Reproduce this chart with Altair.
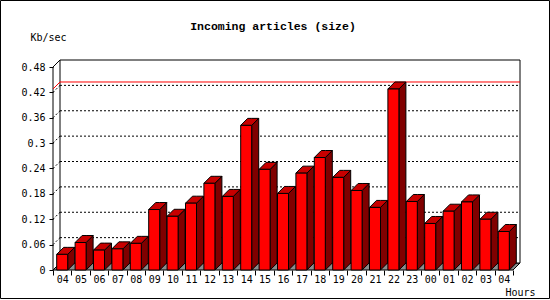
import altair as alt
import pandas as pd

# ---- data ----
hours = ["04", "05", "06", "07", "08", "09", "10", "11", "12", "13", "14", "15",
         "16", "17", "18", "19", "20", "21", "22", "23", "00", "01", "02", "03", "04"]
values = [0.037, 0.065, 0.047, 0.050, 0.063, 0.143, 0.127, 0.158, 0.205, 0.174,
          0.342, 0.238, 0.181, 0.229, 0.266, 0.219, 0.188, 0.148, 0.428, 0.162,
          0.110, 0.139, 0.161, 0.120, 0.091]
y_ticks = [0, 0.06, 0.12, 0.18, 0.24, 0.3, 0.36, 0.42, 0.48]
chart_title = "Incoming articles (size)"
y_title = "Kb/sec"
x_title = "Hours"

# ---- geometry of the pseudo-3D box ----
N = len(values)
W, H = 467, 210
STEP_PX = 18.4
PX_PER_UNIT = 203 / 0.48
DEPTH_PX = 7
Y_MAX = y_ticks[-1]
x_top = W / STEP_PX
y_top = H / PX_PER_UNIT
dxu = DEPTH_PX / STEP_PX
dyu = DEPTH_PX / PX_PER_UNIT
FACE_OFF = 3.7 / STEP_PX
FACE_W = 11 / STEP_PX

xs = alt.Scale(domain=[0, x_top], nice=False, zero=False)
ys = alt.Scale(domain=[0, y_top], nice=False, zero=False)
MONO = "DejaVu Sans Mono"

label_arr = "[" + ",".join("'%s'" % h for h in hours) + "]"
x_axis = alt.Axis(
    values=list(range(N + 1)), labelExpr=label_arr + "[datum.value] || ''",
    labelOffset=STEP_PX / 2, labelFlush=False, labelOverlap=False, labelBound=False,
    tickSize=5, labelPadding=-1, domain=False, grid=False,
    title=x_title, titleX=452, titleY=22, titleAlign="left", titleBaseline="middle",
    titleFont=MONO, titleFontSize=10, titleFontWeight="normal", titleColor="black")
y_axis = alt.Axis(
    values=y_ticks, format="~g", tickSize=4, labelPadding=4, domain=False, grid=False,
    title=y_title, titleAngle=0, titleX=-23, titleY=-23, titleAlign="left",
    titleBaseline="middle", titleFont=MONO, titleFontSize=10,
    titleFontWeight="normal", titleColor="black")

fronts, sides, tops = [], [], []
for i, v in enumerate(values):
    xl = i + FACE_OFF
    xr = xl + FACE_W
    fronts.append(dict(id=i, x=xl, x2=xr, y=0, y2=v))
    sides += [dict(id=i, x=xr, lo=0, hi=v), dict(id=i, x=xr + dxu, lo=dyu, hi=v + dyu)]
    tops += [dict(id=i, x=xl, lo=v, hi=v), dict(id=i, x=xl + dxu, lo=v, hi=v + dyu),
             dict(id=i, x=xr, lo=v, hi=v + dyu), dict(id=i, x=xr + dxu, lo=v + dyu, hi=v + dyu)]

floor = pd.DataFrame([dict(id=0, x=0, lo=0, hi=0), dict(id=0, x=dxu, lo=0, hi=dyu),
                      dict(id=0, x=N, lo=0, hi=dyu), dict(id=0, x=N + dxu, lo=dyu, hi=dyu)])
wall = pd.DataFrame([dict(x=dxu, x2=N + dxu, y=dyu, y2=Y_MAX + dyu)])
grid_h = pd.DataFrame([dict(x=dxu, x2=N + dxu, y=v + dyu, y2=v + dyu) for v in y_ticks[1:-1]])
grid_d = pd.DataFrame([dict(x=0, x2=dxu, y=v, y2=v + dyu) for v in y_ticks[1:-1]])
edge_d = pd.DataFrame([dict(x=0, x2=dxu, y=Y_MAX, y2=Y_MAX + dyu)])
front_axis = pd.DataFrame([dict(x=0, x2=0, y=0, y2=Y_MAX)])
vmax = max(values)
red = pd.DataFrame([dict(x=dxu, x2=N + dxu, y=vmax + dyu, y2=vmax + dyu),
                    dict(x=0, x2=dxu, y=vmax, y2=vmax + dyu)])


def rule_layer(df, color="black", dash=None):
    kw = dict(color=color, strokeWidth=1)
    if dash:
        kw["strokeDash"] = dash
    return alt.Chart(df).mark_rule(**kw).encode(
        x=alt.X("x:Q", scale=xs, axis=x_axis), x2="x2:Q",
        y=alt.Y("y:Q", scale=ys, axis=y_axis), y2="y2:Q")


def area_layer(df, fill):
    return alt.Chart(df).mark_area(fill=fill, stroke="black", strokeWidth=1).encode(
        x=alt.X("x:Q", scale=xs, axis=x_axis),
        y=alt.Y("lo:Q", scale=ys, axis=y_axis, stack=None), y2="hi:Q",
        detail="id:N")


border = alt.Chart(pd.DataFrame({"a": [0]})).mark_rect(
    fillOpacity=0, stroke="black", strokeWidth=1).encode(
    x=alt.value(-52.5), x2=alt.value(496.5), y=alt.value(-59.5), y2=alt.value(238.5))

wall_layer = alt.Chart(wall).mark_rect(fill="white", stroke="black", strokeWidth=1).encode(
    x=alt.X("x:Q", scale=xs, axis=x_axis), x2="x2:Q",
    y=alt.Y("y:Q", scale=ys, axis=y_axis), y2="y2:Q")

front_layer = alt.Chart(pd.DataFrame(fronts)).mark_rect(
    fill="#ff0000", stroke="black", strokeWidth=1).encode(
    x=alt.X("x:Q", scale=xs, axis=x_axis), x2="x2:Q",
    y=alt.Y("y:Q", scale=ys, axis=y_axis), y2="y2:Q")

title_layer = alt.Chart(pd.DataFrame({"t": [chart_title]})).mark_text(
    font="Liberation Mono", fontWeight="bold", fontSize=11.5, align="center",
    baseline="alphabetic", color="black").encode(
    text="t:N", x=alt.value(220), y=alt.value(-30))

chart = alt.layer(
    border,
    area_layer(floor, "#8c8c8c"),
    wall_layer,
    rule_layer(grid_h, dash=[2, 2]),
    rule_layer(grid_d, dash=[2, 2]),
    rule_layer(edge_d),
    rule_layer(front_axis),
    rule_layer(red, color="#ff0000"),
    area_layer(pd.DataFrame(sides), "#800000"),
    area_layer(pd.DataFrame(tops), "#c80000"),
    front_layer,
    title_layer,
).properties(
    width=W, height=H,
    autosize=alt.AutoSizeParams(type="none"),
    padding={"left": 53, "top": 60, "right": 30, "bottom": 30},
    background="white",
).configure_view(stroke=None).configure_axis(
    labelFont=MONO, labelFontSize=10, labelColor="black",
    tickColor="black", tickWidth=1)

chart.save("out.html", embed_options={"renderer": "svg", "actions": False})
